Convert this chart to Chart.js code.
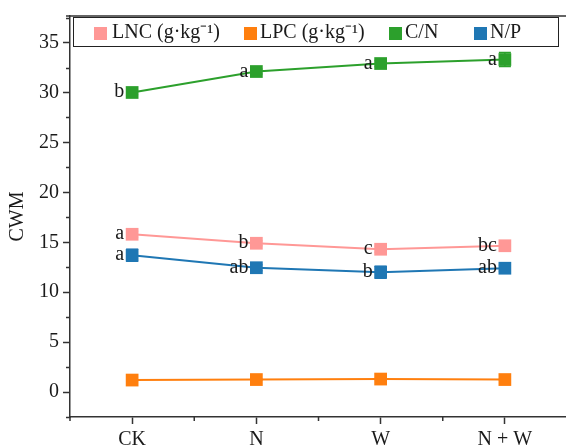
<!DOCTYPE html>
<html><head><meta charset="utf-8">
<script src="https://cdn.jsdelivr.net/npm/chart.js@4.4.1/dist/chart.umd.min.js"></script>
<style>html,body{margin:0;padding:0;overflow:hidden;background:#fff}#wrap{width:567px;height:470px}</style>
</head><body><div id="wrap"><canvas id="c" width="567" height="470"></canvas></div>
<script>
const categories = ['CK', 'N', 'W', 'N + W'];
const seriesNames = ['LNC (g·kg⁻¹)', 'LPC (g·kg⁻¹)', 'C/N', 'N/P'];
const lnc = [15.8, 14.9, 14.3, 14.65];
const lpc = [1.2, 1.25, 1.3, 1.25];
const cn = [30.0, 32.1, 32.9, 33.3];
const np = [13.7, 12.45, 12.0, 12.4];
const lncErr = [0.3, 0.25, 0.3, 0.25];
const lpcErr = [0.05, 0.05, 0.05, 0.05];
const cnErr = [0.2, 0.25, 0.3, 0.7];
const npErr = [0.6, 0.3, 0.6, 0.3];
const lncLetters = ['a', 'b', 'c', 'bc'];
const lpcLetters = ['', '', '', ''];
const cnLetters = ['b', 'a', 'a', 'a'];
const npLetters = ['a', 'ab', 'b', 'ab'];
const yTicks = [0, 5, 10, 15, 20, 25, 30, 35];
const yMinorTicks = [-2.5, 2.5, 7.5, 12.5, 17.5, 22.5, 27.5, 32.5, 37.5];

const colors = ['#ff9896', '#ff7f0e', '#2ca02c', '#1f77b4'];
const FONT = 'Liberation Serif';
const TXT = '#1a1a1a';
const AX = '#333333';

function mkDs(i, data, errs, letters) {
  return {
    label: seriesNames[i], data: data, errors: errs, letters: letters,
    borderColor: colors[i], backgroundColor: colors[i],
    pointBackgroundColor: colors[i], pointBorderColor: colors[i],
    pointStyle: 'rect', pointRadius: 9, pointHoverRadius: 9, pointBorderWidth: 0,
    borderWidth: 2, tension: 0, fill: false
  };
}

const deco = {
  id: 'deco',
  beforeDatasetsDraw(chart) {
    const ctx = chart.ctx, ys = chart.scales.y;
    chart.data.datasets.forEach((ds, i) => {
      const meta = chart.getDatasetMeta(i);
      meta.data.forEach((pt, j) => {
        const v = ds.data[j], e = ds.errors[j];
        const y1 = ys.getPixelForValue(v + e), y2 = ys.getPixelForValue(v - e);
        ctx.save();
        ctx.strokeStyle = ds.borderColor; ctx.lineWidth = 1.5;
        ctx.beginPath();
        ctx.moveTo(pt.x, y1); ctx.lineTo(pt.x, y2);
        ctx.moveTo(pt.x - 6, y1); ctx.lineTo(pt.x + 6, y1);
        ctx.moveTo(pt.x - 6, y2); ctx.lineTo(pt.x + 6, y2);
        ctx.stroke();
        ctx.restore();
      });
    });
  },
  afterDatasetsDraw(chart) {
    const ctx = chart.ctx, ys = chart.scales.y, xs = chart.scales.x, ca = chart.chartArea;
    ctx.save();
    ctx.font = '20px "' + FONT + '"';
    ctx.fillStyle = TXT; ctx.textAlign = 'right'; ctx.textBaseline = 'alphabetic';
    chart.data.datasets.forEach((ds, i) => {
      const meta = chart.getDatasetMeta(i);
      meta.data.forEach((pt, j) => {
        const t = ds.letters[j];
        if (t) ctx.fillText(t, pt.x - 8, pt.y + 5);
      });
    });
    ctx.strokeStyle = AX; ctx.lineWidth = 1.5;
    ctx.beginPath();
    yMinorTicks.forEach(v => {
      const y = Math.round(ys.getPixelForValue(v)) + 0.5;
      ctx.moveTo(ca.left - 4, y); ctx.lineTo(ca.left, y);
    });
    const n = categories.length;
    for (let i = -1; i < n; i++) {
      const x = (xs.getPixelForValue(i) + xs.getPixelForValue(i + 1)) / 2;
      ctx.moveTo(x, ca.bottom); ctx.lineTo(x, ca.bottom + 4);
    }
    ctx.moveTo(ca.left - 4, ca.top); ctx.lineTo(ca.right, ca.top);
    ctx.stroke();
    ctx.lineWidth = 1; ctx.strokeStyle = '#222';
    ctx.strokeRect(73.5, 17.5, 485, 29);
    const boxX = [94, 244, 389, 474];
    const txtX = [112, 260, 405, 490];
    ctx.font = '20px "' + FONT + '"';
    ctx.textAlign = 'left'; ctx.textBaseline = 'middle';
    seriesNames.forEach((s, i) => {
      ctx.fillStyle = colors[i];
      ctx.fillRect(boxX[i], 27, 13, 13);
      ctx.fillStyle = TXT;
      ctx.fillText(s, txtX[i], 33);
    });
    ctx.restore();
  }
};

new Chart(document.getElementById('c'), {
  type: 'line',
  data: {
    labels: categories,
    datasets: [
      mkDs(0, lnc, lncErr, lncLetters),
      mkDs(1, lpc, lpcErr, lpcLetters),
      mkDs(2, cn, cnErr, cnLetters),
      mkDs(3, np, npErr, npLetters)
    ]
  },
  options: {
    responsive: false, animation: false, devicePixelRatio: 1,
    layout: { autoPadding: false, padding: { top: 16, right: 0, left: 0, bottom: 0 } },
    plugins: { legend: { display: false }, tooltip: { enabled: false } },
    scales: {
      x: {
        type: 'category', offset: true,
        afterFit: s => { s.height = 53; s.paddingLeft = 0; s.paddingRight = 0; },
        grid: { drawOnChartArea: false, tickLength: 7, tickWidth: 1.5, tickColor: AX, offset: false },
        border: { color: AX, width: 1.5 },
        ticks: { font: { family: FONT, size: 20 }, color: TXT, padding: 4, maxRotation: 0, autoSkip: false }
      },
      y: {
        type: 'linear', min: -2.5, max: 37.66,
        afterBuildTicks: s => { s.ticks = yTicks.map(v => ({ value: v })); },
        afterFit: s => { s.width = 70; s.paddingTop = 0; s.paddingBottom = 0; },
        grid: { drawOnChartArea: false, tickLength: 7, tickWidth: 1.5, tickColor: AX },
        border: { color: AX, width: 1.5 },
        ticks: { font: { family: FONT, size: 20 }, color: TXT, padding: 4 },
        title: { display: true, text: 'CWM', font: { family: FONT, size: 20 }, color: TXT, padding: { top: 6, bottom: 0 } }
      }
    }
  },
  plugins: [deco]
});
</script>
</body></html>
